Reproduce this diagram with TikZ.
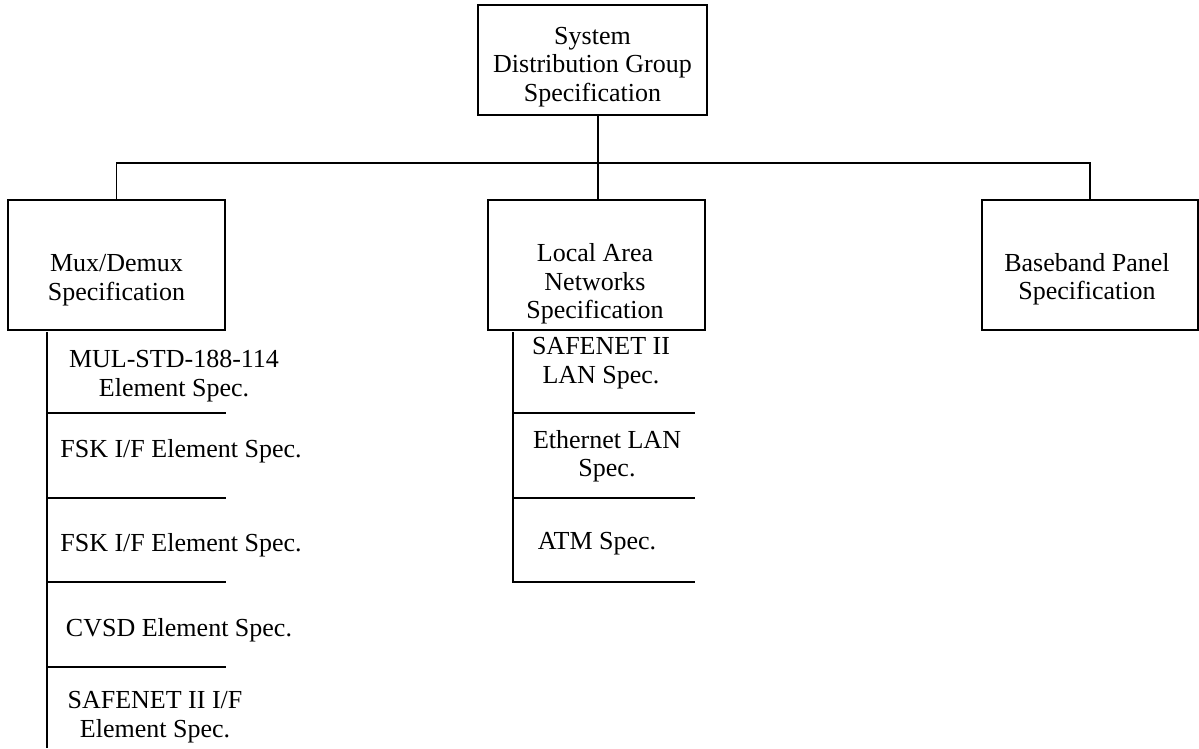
\documentclass[tikz,border=0pt]{standalone}
\usepackage{fontspec}
\setmainfont{Liberation Serif}
\begin{document}
\begin{tikzpicture}[x=1pt,y=-1pt,
  box/.style={draw, line width=1.3pt, inner sep=0pt},
  txt/.style={inner sep=0pt, align=center, font=\fontsize{26}{28.5}\selectfont},
  conn/.style={line width=1.3pt},
  col/.style={line width=2.6pt}]
\useasboundingbox (0,0) rectangle (1199,748);
% boxes
\node[box, minimum width=229pt, minimum height=110pt] (top) at (592.5,60) {};
\node[txt] (topt) at (592.5,67) {System\\Distribution Group\\Specification};
\node[box, minimum width=217pt, minimum height=130pt] (mux) at (116.5,265) {};
\node[txt] (muxt) at (116.5,280) {Mux/Demux\\Specification};
\node[box, minimum width=217pt, minimum height=130pt] (lan) at (596.5,265) {};
\node[txt] (lant) at (595,284) {Local Area\\Networks\\Specification};
\node[box, minimum width=216pt, minimum height=130pt] (base) at (1090,265) {};
\node[txt] (baset) at (1087,279) {Baseband Panel\\Specification};
% connectors
\coordinate (bus) at (598,163);
\draw[conn] (top.south -| bus) -- (bus);
\draw[conn] (mux.north) -- (mux.north |- bus) -- (base.north |- bus) -- (base.north);
\draw[conn] (lan.north -| bus) -- (bus);
% mux column
\coordinate (mtop) at (47,332);
\coordinate (mbot) at (47,748);
\draw[col] (mtop) -- (mbot);
\foreach \y in {413,498,582,667} \draw[col] (47,\y) -- (226,\y);
\node[txt] (m1) at (174,376) {MUL-STD-188-114\\Element Spec.};
\node[txt] (m2) at (181,451) {FSK I/F Element Spec.};
\node[txt] (m3) at (181,545) {FSK I/F Element Spec.};
\node[txt] (m4) at (179,630) {CVSD Element Spec.};
\node[txt] (m5) at (155,717) {SAFENET II I/F\\Element Spec.};
% lan column
\coordinate (ltop) at (513,332);
\coordinate (lbot) at (513,583);
\draw[col] (ltop) -- (lbot);
\foreach \y in {413,498,582} \draw[col] (513,\y) -- (695,\y);
\node[txt] (l1) at (601,363) {SAFENET II\\LAN Spec.};
\node[txt] (l2) at (607,456) {Ethernet LAN\\Spec.};
\node[txt] (l3) at (597,544) {ATM Spec.};
\end{tikzpicture}
\end{document}
